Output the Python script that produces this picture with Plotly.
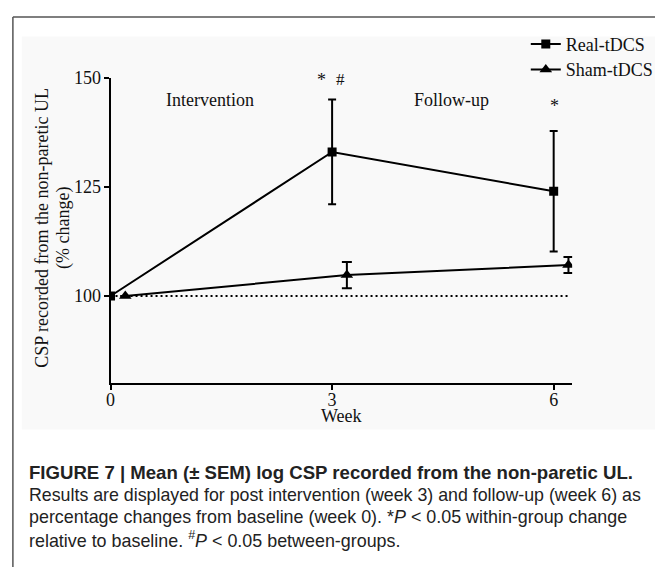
import plotly.graph_objects as go

# ---- data ----
weeks = [0, 3, 6]
real_mean = [100, 133, 124]
real_sem = [0, 12, 13.8]
sham_mean = [100, 104.8, 107.1]
sham_sem = [0, 3.0, 1.85]
series_names = ["Real-tDCS", "Sham-tDCS"]
y_ticks = [100, 125, 150]
x_ticks = [0, 3, 6]

W, H = 659, 567
SERIF = "Liberation Serif, Times New Roman, serif"
SANS = "Liberation Sans, Arial, sans-serif"
DODGE = 0.2  # horizontal offset of sham points


def px_x(p):
    return p / W


def px_y(p):
    return 1 - p / H


fig = go.Figure()

fig.add_trace(go.Scatter(
    x=weeks, y=real_mean, name=series_names[0], mode="lines+markers",
    line=dict(color="black", width=2),
    marker=dict(symbol="square", size=9, color="black"),
    error_y=dict(type="data", array=real_sem, color="black", thickness=2, width=4),
    legend="legend",
))
fig.add_trace(go.Scatter(
    x=[w + DODGE for w in weeks], y=sham_mean, name=series_names[1], mode="lines+markers",
    line=dict(color="black", width=2),
    marker=dict(symbol="triangle-up", size=11, color="black"),
    error_y=dict(type="data", array=sham_sem, color="black", thickness=2, width=5),
    legend="legend2",
))

shapes = [
    # light panel background
    dict(type="rect", xref="paper", yref="paper", x0=px_x(17), x1=1, y0=px_y(427), y1=px_y(27),
         fillcolor="#f9f9f9", line=dict(width=0), layer="below"),
    # frame
    dict(type="line", xref="paper", yref="paper", x0=px_x(8), x1=1, y0=px_y(7), y1=px_y(7),
         line=dict(color="#555", width=1.5)),
    dict(type="line", xref="paper", yref="paper", x0=px_x(8), x1=px_x(8), y0=px_y(7), y1=0,
         line=dict(color="#555", width=1.5)),
    # baseline reference
    dict(type="line", xref="x", yref="y", x0=0, x1=6.2, y0=100, y1=100,
         line=dict(color="black", width=2, dash="2px,3px"), layer="below"),
]

ann = []
def serif_text(x, y, text, xref="x", yref="y", size=18, **kw):
    ann.append(dict(x=x, y=y, xref=xref, yref=yref, text=text, showarrow=False,
                    font=dict(family=SERIF, size=size, color="#111"), **kw))

serif_text(1.34, 144.8, "Intervention")
serif_text(4.62, 144.8, "Follow-up")
serif_text(2.85, 149.6, "*")
serif_text(3.11, 149.6, "#", size=17)
serif_text(6.01, 143.6, "*")
serif_text(px_x(341), px_y(425), "Week", xref="paper", yref="paper")
serif_text(px_x(25), px_y(222), "CSP recorded from the non-paretic UL",
           xref="paper", yref="paper", textangle=-90)
serif_text(px_x(46), px_y(222), "(% change)",
           xref="paper", yref="paper", textangle=-90)

cap = [
    ("<b>FIGURE 7 | Mean (± SEM) log CSP recorded from the non-paretic UL.</b>", 471, 18.6),
    ("Results are displayed for post intervention (week 3) and follow-up (week 6) as", 494, 17.8),
    ("percentage changes from baseline (week 0). *<i>P</i> &lt; 0.05 within-group change", 516, 17.9),
    ("relative to baseline. <sup>#</sup><i>P</i> &lt; 0.05 between-groups.", 539, 17.9),
]
for t, yy, fs in cap:
    ann.append(dict(x=px_x(22), y=px_y(yy), xref="paper", yref="paper", text=t, showarrow=False,
                    xanchor="left", yanchor="middle",
                    font=dict(family=SANS, size=fs, color="#222")))

leg_common = dict(xanchor="left", yanchor="top",
                  font=dict(family=SERIF, size=18, color="#111"),
                  bgcolor="rgba(0,0,0,0)", itemwidth=30)

fig.update_layout(
    width=W, height=H, margin=dict(l=0, r=0, t=0, b=0),
    paper_bgcolor="white", plot_bgcolor="rgba(0,0,0,0)",
    shapes=shapes, annotations=ann,
    showlegend=True,
    legend=dict(x=px_x(528), y=px_y(16), **leg_common),
    legend2=dict(x=px_x(528), y=px_y(42), **leg_common),
    xaxis=dict(domain=[px_x(107), px_x(575)], range=[0, 6.25], tickvals=x_ticks,
               showline=True, linecolor="black", linewidth=2, ticks="outside",
               ticklen=5, tickwidth=2, tickcolor="black", showgrid=False, zeroline=False,
               ticklabelstandoff=-6,
               tickfont=dict(family=SERIF, size=18, color="#111")),
    yaxis=dict(domain=[px_y(380), px_y(69)], range=[80, 150], tickvals=y_ticks,
               showline=True, linecolor="black", linewidth=2, ticks="outside",
               ticklen=5, tickwidth=2, tickcolor="black", showgrid=False, zeroline=False,
               ticklabelstandoff=-1,
               tickfont=dict(family=SERIF, size=18, color="#111")),
)

fig.write_html("out.html")
